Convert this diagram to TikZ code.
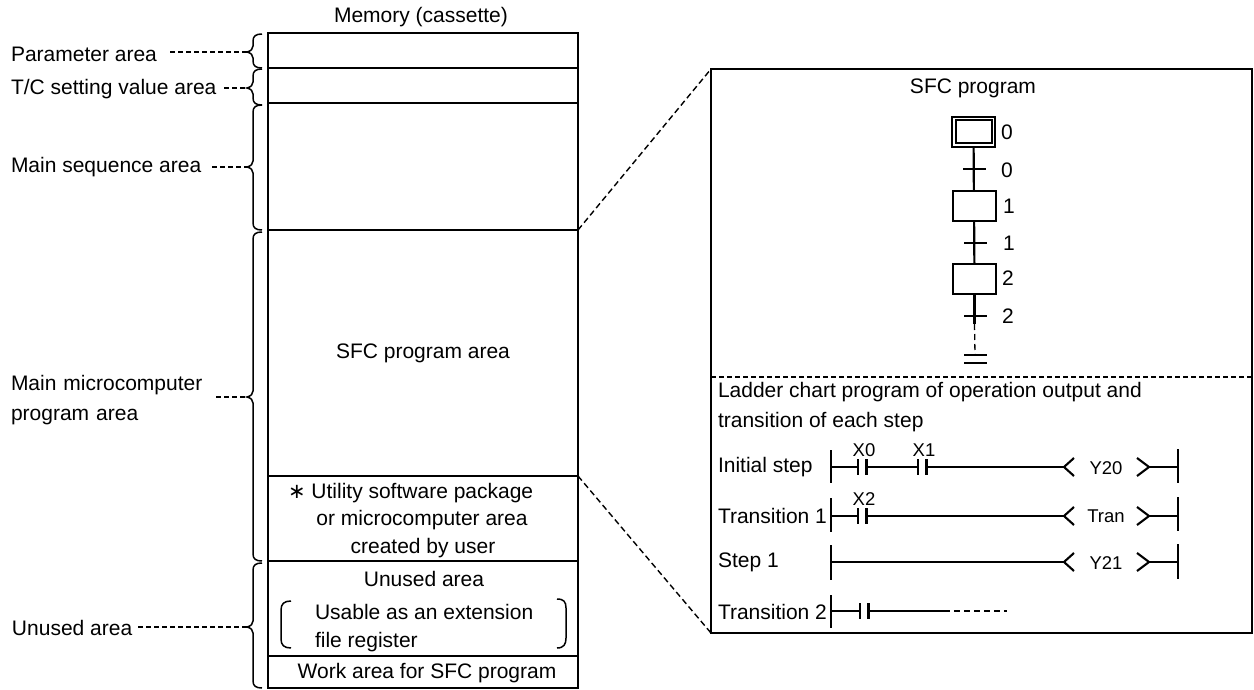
\documentclass[tikz,border=0pt]{standalone}
\usepackage{fontspec}
\setmainfont{Liberation Sans}
\newfontfamily\djv{DejaVu Sans}
\usetikzlibrary{calc}
\newcommand{\fs}{\fontsize{21}{24}\selectfont}
\newcommand{\fss}{\fontsize{18.5}{21}\selectfont}
\tikzset{
  x=1pt,y=-1pt,
  every node/.style={font=\fs,inner sep=0pt,outer sep=0pt,text=black},
  cell/.style={draw=black,line width=2pt,anchor=north west,minimum width=310pt},
  lab/.style={anchor=west},
  ctr/.style={anchor=center},
  small/.style={anchor=center,font=\fss},
  leader/.style={line width=1.2pt,dash pattern=on 5pt off 3pt},
  brc/.style={line width=1.5pt},
  stepbox/.style={draw=black,line width=2pt,minimum width=43pt,minimum height=30pt},
  sfcline/.style={line width=2.2pt},
  rung/.style={line width=2.1pt},
  rail/.style={line width=2.3pt},
  zoomline/.style={line width=1.4pt,dash pattern=on 6pt off 3.5pt},
}
% #1 name of tip, #2 top, #3 tip, #4 bottom
\newcommand{\mybrace}[4]{%
  \coordinate (#1) at (247,#3);
  \draw[brc] (262,#2) .. controls (256,#2) and (253,#2+2) .. (253,#2+7) -- (253,#3-6)
    .. controls (253,#3-3) and (251,#3-1) .. (#1)
    .. controls (251,#3+1) and (253,#3+3) .. (253,#3+6) -- (253,#4-7)
    .. controls (253,#4-2) and (256,#4) .. (262,#4);
}
% contact: #1 name, #2 x, #3 y (left plate)
\newcommand{\mycontact}[3]{%
  \coordinate (#1L) at (#2,#3);
  \coordinate (#1R) at (#2+8.5,#3);
  \draw[rung] (#2,#3-8) -- (#2,#3+8);
  \draw[rung] (#2+8.5,#3-8) -- (#2+8.5,#3+8);
}
% coil brackets: #1 name, #2 y
\newcommand{\mycoil}[2]{%
  \coordinate (#1L) at (1064,#2);
  \coordinate (#1R) at (1149,#2);
  \draw[rung] (1074,#2-9) -- (#1L) -- (1074,#2+9);
  \draw[rung] (1137,#2-9) -- (#1R) -- (1137,#2+9);
}
\begin{document}
\begin{tikzpicture}
\useasboundingbox (0,0) rectangle (1254,690);
\fill[white] (0,0) rectangle (1254,690);

% memory column
\node[ctr] (memtitle) at (421,17) {Memory (cassette)};
\node[cell,minimum height=35pt] (c1) at (268,33) {};
\node[cell,minimum height=35pt] (c2) at (268,68) {};
\node[cell,minimum height=127pt] (c3) at (268,103) {};
\node[cell,minimum height=246pt] (c4) at (268,230) {};
\node[cell,minimum height=85pt] (c5) at (268,476) {};
\node[cell,minimum height=95pt] (c6) at (268,561) {};
\node[cell,minimum height=32pt] (c7) at (268,656) {};

\node[ctr] (tsfc) at (423,353) {SFC program area};
\node[anchor=west] (tu1) at (288,493) {{\djv ∗} Utility software package};
\node[ctr] (tu2) at (422,520) {or microcomputer area};
\node[ctr] (tu3) at (423,548) {created by user};
\node[ctr] (tun) at (424,579) {Unused area};
\node[lab] (tus1) at (315,612) {Usable as an extension};
\node[lab] (tus2) at (315,642) {file register};
\node[ctr] (twork) at (427,673) {Work area for SFC program};
\draw[brc] (291,601) .. controls (284,601) and (281,604) .. (281,610) -- (281,639)
  .. controls (281,645) and (284,648) .. (291,648);
\draw[brc] (557,599) .. controls (564,599) and (566,602) .. (566,608) -- (566,638)
  .. controls (566,644) and (564,648) .. (557,648);

% braces and left labels
\mybrace{b1}{34}{52}{68}
\mybrace{b2}{69}{88}{105}
\mybrace{b3}{105}{167}{230}
\mybrace{b4}{232}{397}{561}
\mybrace{b5}{563}{627}{688}

\node[lab] (l1) at (11,54) {Parameter area};
\node[lab] (l2) at (11,89) {T/C setting value area};
\node[lab] (l3) at (11,167) {Main sequence area};
\node[lab,align=left,text width=215pt] (l4) at (11,400) {Main microcomputer\\[6pt]program area};
\node[lab] (l5) at (12,628) {Unused area};
\coordinate (d1) at (170,52);
\coordinate (d2) at (224,88);
\coordinate (d3) at (212,167);
\coordinate (d4) at (216,397);
\coordinate (d5) at (138,627);
\draw[leader] (d1) -- (b1);
\draw[leader] (d2) -- (b2);
\draw[leader] (d3) -- (b3);
\draw[leader] (d4) -- (b4);
\draw[leader] (d5) -- (b5);

% detail panel
\node[draw=black,line width=2.2pt,anchor=north west,minimum width=541pt,minimum height=564pt] (panel) at (711,69) {};
\coordinate (divL) at (711,377);
\coordinate (divR) at (1252,377);
\draw[line width=1.3pt,dash pattern=on 5pt off 3pt] (divL) -- (divR);
\draw[zoomline] (c3.south east) -- (panel.north west);
\draw[zoomline] (c4.south east) -- (panel.south west);

% SFC
\node[ctr] (sfct) at (973,88) {SFC program};
\node[stepbox] (s0) at (973.5,132) {};
\node[draw=black,line width=2pt,minimum width=36pt,minimum height=23pt] (s0i) at (973.5,132) {};
\node[stepbox] (s1) at (974,206) {};
\node[stepbox] (s2) at (974.5,278.5) {};
\coordinate (e3) at (975,355);
\coordinate (tr0a) at (963,169); \coordinate (tr0b) at (986,169);
\coordinate (tr1a) at (964,243); \coordinate (tr1b) at (987,243);
\coordinate (tr2a) at (964,316); \coordinate (tr2b) at (987,316);
\coordinate (ea) at (964,355); \coordinate (eb) at (987,355);
\coordinate (fa) at (964,363); \coordinate (fb) at (987,363);
\draw[sfcline] (s0) -- (s1);
\draw[sfcline] (s1) -- (s2);
\draw[sfcline] (s2.south) -- (974.5,324);
\draw[line width=1.3pt,dash pattern=on 6pt off 4pt] (974.5,324) -- (e3);
\draw[line width=1.6pt] (tr0a) -- (tr0b);
\draw[line width=1.6pt] (tr1a) -- (tr1b);
\draw[line width=1.6pt] (tr2a) -- (tr2b);
\draw[line width=1.6pt] (ea) -- (eb);
\draw[line width=1.6pt] (fa) -- (fb);
\node[ctr] (n0) at (1007,132) {0};
\node[ctr] (n0t) at (1007,170) {0};
\node[ctr] (n1) at (1009,206) {1};
\node[ctr] (n1t) at (1009,243) {1};
\node[ctr] (n2) at (1008,278) {2};
\node[ctr] (n2t) at (1008,316) {2};

% ladder
\node[lab] (lt1) at (718,392) {Ladder chart program of operation output and};
\node[lab] (lt2) at (718,422) {transition of each step};
\node[lab] (r1) at (718,467) {Initial step};
\node[lab] (r2) at (718,516) {Transition 1};
\node[lab] (r3) at (718,562) {Step 1};
\node[lab] (r4) at (718,612) {Transition 2};

\draw[rail] (831,450) -- (831,483);
\draw[rail] (831,498) -- (831,532);
\draw[rail] (831,545) -- (831,580);
\draw[rail] (831,595) -- (831,628);
\draw[rail] (1178,449) -- (1178,483);
\draw[rail] (1178,497) -- (1178,531);
\draw[rail] (1178,544) -- (1178,579);

\coordinate (a1) at (831,467);
\coordinate (a2) at (831,516);
\coordinate (a3) at (831,562);
\coordinate (a4) at (831,611);
\coordinate (z1) at (1178,467);
\coordinate (z2) at (1178,516);
\coordinate (z3) at (1178,562);

\mycontact{k0}{858}{467}
\mycontact{k1}{918}{467}
\mycontact{k2}{858}{516}
\mycontact{k3}{860}{611}
\mycoil{q1}{467}
\mycoil{q2}{516}
\mycoil{q3}{562}
\node[small] (x0) at (864,450) {X0};
\node[small] (x1) at (924,450) {X1};
\node[small] (x2) at (864,499) {X2};
\node[small] (y20) at (1106,468) {Y20};
\node[small] (tran) at (1106,516) {Tran};
\node[small] (y21) at (1106,563) {Y21};

\draw[rung] (a1) -- (k0L);
\draw[rung] (k0R) -- (k1L);
\draw[rung] (k1R) -- (q1L);
\draw[rung] (q1R) -- (z1);
\draw[rung] (a2) -- (k2L);
\draw[rung] (k2R) -- (q2L);
\draw[rung] (q2R) -- (z2);
\draw[rung] (a3) -- (q3L);
\draw[rung] (q3R) -- (z3);
\coordinate (w1) at (944,611);
\coordinate (w2) at (1007,611);
\draw[rung] (a4) -- (k3L);
\draw[rung] (k3R) -- (w1);
\draw[line width=1.3pt,dash pattern=on 6pt off 4pt] (w1) -- (w2);
\end{tikzpicture}
\end{document}
